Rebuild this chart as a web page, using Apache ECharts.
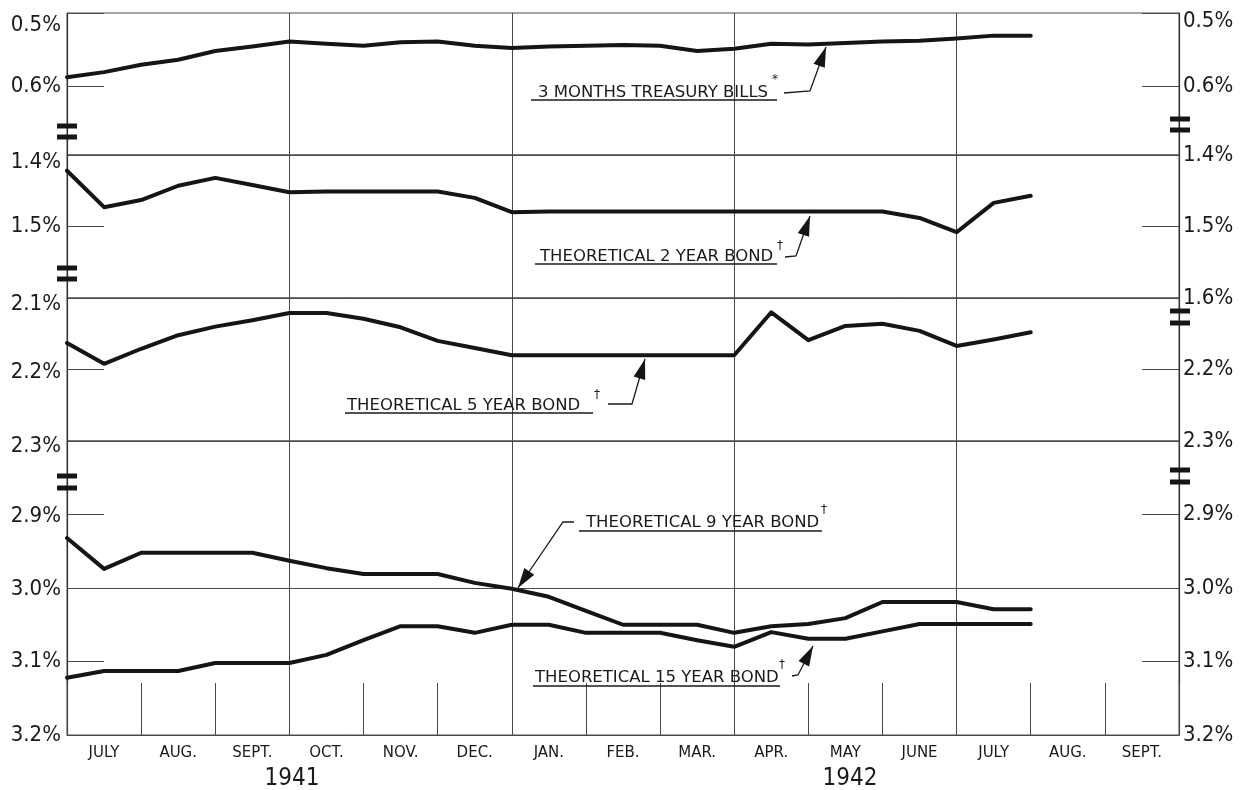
<!DOCTYPE html>
<html><head><meta charset="utf-8">
<script src="https://cdn.jsdelivr.net/npm/echarts@6/dist/echarts.min.js"></script>
<style>html,body{margin:0;padding:0;background:#fff}#c{width:1250px;height:790px}</style>
</head><body><div id="c"></div>
<script>
// ---------- DATA ----------
const monthLabels = ['JULY','AUG.','SEPT.','OCT.','NOV.','DEC.','JAN.','FEB.','MAR.','APR.','MAY','JUNE','JULY','AUG.','SEPT.'];
const yearLabels = ['1941','1942'];
// semi-monthly observations, July 1941 – end of July 1942 (yields, %)
const tBills     = [0.588,0.581,0.571,0.564,0.552,0.546,0.539,0.542,0.545,0.540,0.539,0.545,0.548,0.546,0.545,0.544,0.545,0.552,0.549,0.542,0.543,0.541,0.539,0.538,0.535,0.531,0.531];
const twoYear    = [1.422,1.473,1.463,1.443,1.432,1.442,1.452,1.451,1.451,1.451,1.451,1.460,1.480,1.479,1.479,1.479,1.479,1.479,1.479,1.479,1.479,1.479,1.479,1.488,1.508,1.467,1.457];
const fiveYear   = [2.163,2.192,2.171,2.152,2.140,2.131,2.121,2.121,2.129,2.141,2.160,2.170,2.180,2.180,2.180,2.180,2.180,2.180,2.180,2.120,2.159,2.139,2.136,2.146,2.167,2.158,2.148];
const nineYear   = [2.932,2.974,2.952,2.952,2.952,2.952,2.963,2.973,2.981,2.981,2.981,2.993,3.001,3.012,3.031,3.050,3.050,3.050,3.061,3.052,3.049,3.041,3.019,3.019,3.019,3.029,3.029];
const fifteenYear= [3.122,3.113,3.113,3.113,3.102,3.102,3.102,3.091,3.071,3.052,3.052,3.061,3.050,3.050,3.061,3.061,3.061,3.071,3.080,3.060,3.069,3.069,3.059,3.049,3.049,3.049,3.049];
const seriesNames = ['3 MONTHS TREASURY BILLS','THEORETICAL 2 YEAR BOND','THEORETICAL 5 YEAR BOND','THEORETICAL 9 YEAR BOND','THEORETICAL 15 YEAR BOND'];
// tick labels per panel
const ticksLeftA  = [0.5, 0.6];
const ticksRightA = [0.5, 0.6];
const ticksLeftB  = [1.4, 1.5];
const ticksRightB = [1.4, 1.5, 1.6];
const ticksLeftC  = [2.1, 2.2, 2.3];
const ticksRightC = [2.2, 2.3];
const ticksLeftD  = [2.9, 3.0, 3.1, 3.2];
const ticksRightD = [2.9, 3.0, 3.1, 3.2];
const fullLineValues = [3.0];

// ---------- LAYOUT ----------
const FONT_NUM = "'DejaVu Sans Condensed','Liberation Sans Narrow','DejaVu Sans',sans-serif";
const FONT_TXT = "'DejaVu Sans',sans-serif";
const INK = '#151515';
const GRIDC = '#4a4a4a';

// half-month categories (31 boundaries/midpoints); month names at mid-month
const categories = [];
for (let i = 0; i <= 30; i++) categories.push(i % 2 === 1 ? monthLabels[(i - 1) / 2] : '');

const panels = [
  {top: 13,  height: 142, min: 0.5, max: 0.5 + 142 / 730, L: ticksLeftA, R: ticksRightA, shL: {'0.5': 24}, shR: {'0.5': 16}},
  {top: 155, height: 143, min: 1.4, max: 1.6, L: ticksLeftB, R: ticksRightB, shL: {'1.4': 14}, shR: {}},
  {top: 298, height: 143, min: 2.1, max: 2.3, L: ticksLeftC, R: ticksRightC, shL: {'2.1': 12, '2.2': 6, '2.3': 10}, shR: {}},
  {top: 441, height: 294, min: 2.8, max: 3.2, L: ticksLeftD, R: ticksRightD, shL: {'2.9': 4, '3.0': 3}, shR: {}}
];

function labelFormatter(allowed, shifts) {
  return function (v) {
    const r = Math.round(v * 10) / 10;
    if (Math.abs(v - r) > 1e-6) return '';
    if (!allowed.some(a => Math.abs(a - r) < 1e-6)) return '';
    const t = r.toFixed(1) + '%';
    const key = r.toFixed(1);
    if (shifts[key]) return '{s' + shifts[key] + '|' + t + '}';
    return t;
  };
}
const rich = {};
[3,4,6,10,12,14,16,24].forEach(p => {
  rich['s' + p] = {padding: [p, 0, 0, 0], fontSize: 22, fontFamily: FONT_NUM, color: '#1a1a1a'};
});

const grids = [], xAxes = [], yAxes = [];
panels.forEach((p, i) => {
  grids.push({left: 67, right: 71, top: p.top, height: p.height, show: true,
    borderColor: GRIDC, borderWidth: 1, backgroundColor: 'transparent'});
  const isBottom = i === panels.length - 1;
  xAxes.push({
    type: 'category', gridIndex: i, data: categories, boundaryGap: false,
    axisLine: {show: true, lineStyle: {color: GRIDC, width: 1}},
    axisTick: isBottom ? {show: true, inside: true, length: 52, interval: (idx) => idx % 2 === 0,
      lineStyle: {color: GRIDC, width: 1}} : {show: false},
    axisLabel: isBottom ? {show: true, interval: (idx) => idx % 2 === 1, color: '#1a1a1a',
      fontSize: 15, fontFamily: FONT_TXT, margin: 11} : {show: false},
    splitLine: {show: true, interval: (idx) => idx % 6 === 0, lineStyle: {color: GRIDC, width: 1}}
  });
  ['left', 'right'].forEach(side => {
    yAxes.push({
      type: 'value', gridIndex: i, position: side, inverse: true,
      min: p.min, max: p.max, interval: 0.1,
      axisLine: {show: true, lineStyle: {color: '#333', width: 1.2}},
      axisTick: {show: true, inside: true, length: 37, lineStyle: {color: GRIDC, width: 1}},
      splitLine: {show: false},
      axisLabel: {show: true, formatter: labelFormatter(side === 'left' ? p.L : p.R, side === 'left' ? p.shL : p.shR),
        rich: rich, fontSize: 22, fontFamily: FONT_NUM, color: '#1a1a1a', margin: side === 'left' ? 6 : 4}
    });
  });
});

const lineStyle = {color: INK, width: 4, cap: 'round', join: 'round'};
function mkSeries(name, data, gi) {
  return {name, type: 'line', data, xAxisIndex: gi, yAxisIndex: gi * 2, symbol: 'none',
    lineStyle, silent: true, z: 5};
}
const series = [
  mkSeries(seriesNames[0], tBills, 0),
  mkSeries(seriesNames[1], twoYear, 1),
  mkSeries(seriesNames[2], fiveYear, 2),
  mkSeries(seriesNames[3], nineYear, 3),
  mkSeries(seriesNames[4], fifteenYear, 3)
];
series[3].markLine = {silent: true, symbol: 'none', label: {show: false},
  lineStyle: {color: GRIDC, width: 1, type: 'solid'},
  data: fullLineValues.map(v => ({yAxis: v})), z: 1};

// ---------- ANNOTATIONS (graphic) ----------
const annots = [
  {label: seriesNames[0], mark: '*', tx: 538, ty: 93,  u: [531, 777, 100], m: [772, 80],  lead: [[784, 93], [810, 91], [826, 47]]},
  {label: seriesNames[1], mark: '\u2020', tx: 540, ty: 257, u: [535, 777, 264], m: [777, 246], lead: [[785, 257], [796, 256], [810, 216]]},
  {label: seriesNames[2], mark: '\u2020', tx: 347, ty: 406, u: [345, 593, 413], m: [594, 395], lead: [[608, 404], [632, 404], [645, 359]]},
  {label: seriesNames[3], mark: '\u2020', tx: 586, ty: 523, u: [579, 822, 531], m: [821, 510], lead: [[574, 522], [563, 522], [518, 588]]},
  {label: seriesNames[4], mark: '\u2020', tx: 535, ty: 678, u: [533, 780, 686], m: [779, 665], lead: [[792, 676], [798, 675], [813, 646]]}
];
function arrowHead(tip, from, len, w) {
  const dx = tip[0] - from[0], dy = tip[1] - from[1];
  const d = Math.hypot(dx, dy), ux = dx / d, uy = dy / d;
  const bx = tip[0] - ux * len, by = tip[1] - uy * len;
  const nx = -uy * w / 2, ny = ux * w / 2;
  return [tip, [bx + nx, by + ny], [bx - nx, by - ny]];
}
const graphic = [];
annots.forEach(a => {
  graphic.push({type: 'text', x: a.tx, y: a.ty, z: 20, style: {text: a.label, fontSize: 16.5, fontFamily: FONT_TXT,
    fill: '#1a1a1a', align: 'left', verticalAlign: 'middle'}});
  graphic.push({type: 'text', x: a.m[0], y: a.m[1], z: 20, style: {text: a.mark, fontSize: 12, fontFamily: FONT_TXT,
    fill: '#1a1a1a', align: 'left', verticalAlign: 'middle'}});
  graphic.push({type: 'line', z: 20, shape: {x1: a.u[0], y1: a.u[2], x2: a.u[1], y2: a.u[2]}, style: {stroke: '#1a1a1a', lineWidth: 1.6}});
  const n = a.lead.length;
  graphic.push({type: 'polyline', z: 20, shape: {points: a.lead}, style: {stroke: '#1a1a1a', lineWidth: 1.3, fill: null}});
  graphic.push({type: 'polygon', z: 21, shape: {points: arrowHead(a.lead[n - 1], a.lead[n - 2], 20, 12)}, style: {fill: INK}});
});
// axis break marks
const breaksLeft = [126, 137, 268, 279, 476, 488];
const breaksRight = [119, 130, 311, 323, 470, 482];
breaksLeft.forEach(y => graphic.push({type: 'rect', z: 30, shape: {x: 57, y: y - 2.5, width: 20, height: 5}, style: {fill: INK}}));
breaksRight.forEach(y => graphic.push({type: 'rect', z: 30, shape: {x: 1170, y: y - 2.5, width: 20, height: 5}, style: {fill: INK}}));
// year labels
const yearPos = [[292, 779], [850, 779]];
yearLabels.forEach((t, i) => graphic.push({type: 'text', x: yearPos[i][0], y: yearPos[i][1], z: 20,
  style: {text: t, fontSize: 24, fontFamily: FONT_NUM, fill: '#1a1a1a', align: 'center', verticalAlign: 'middle'}}));

const chart = echarts.init(document.getElementById('c'), null, {renderer: 'canvas'});
chart.setOption({
  backgroundColor: '#ffffff',
  animation: false,
  grid: grids, xAxis: xAxes, yAxis: yAxes, series, graphic
});
</script></body></html>
